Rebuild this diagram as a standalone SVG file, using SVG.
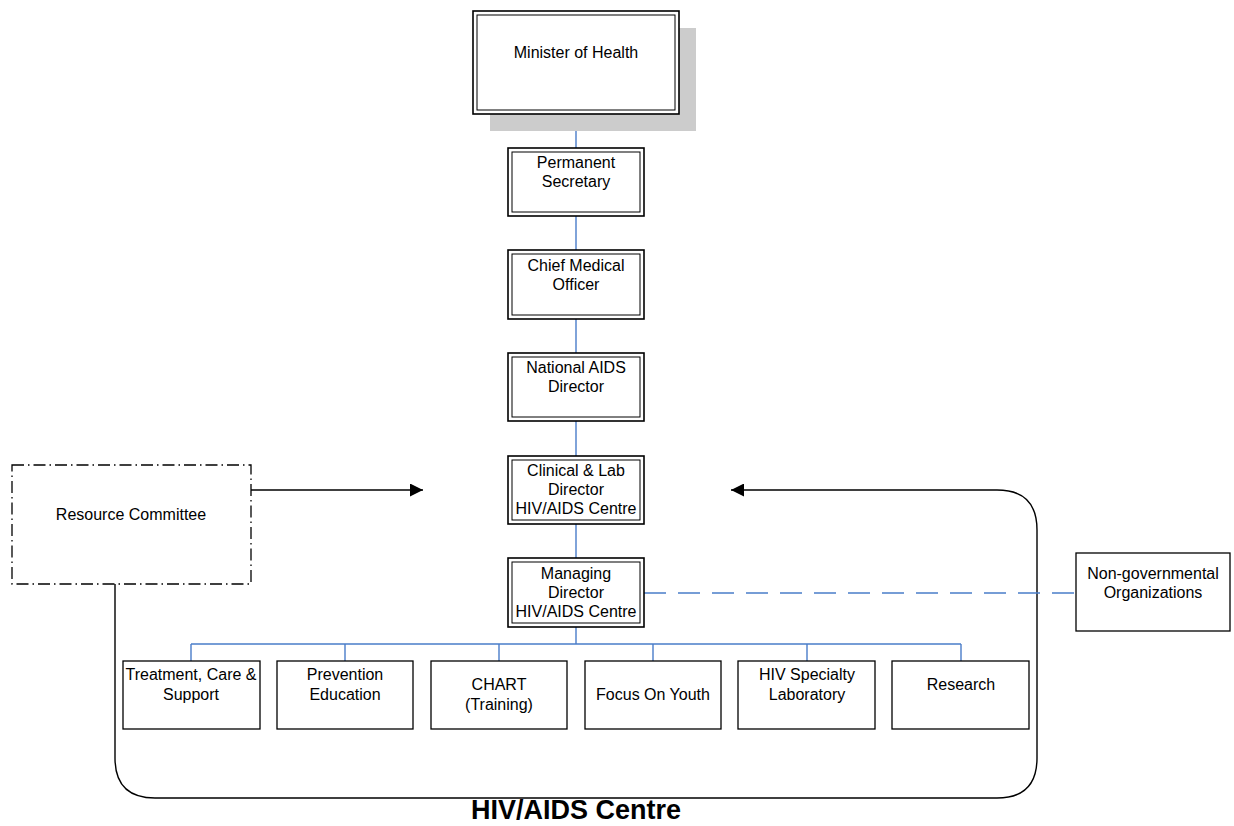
<svg xmlns="http://www.w3.org/2000/svg" width="1234" height="826" viewBox="0 0 1234 826">
<style>
text{font-family:"Liberation Sans",Arial,sans-serif;font-size:16px;fill:#000;text-anchor:middle}
.o{fill:#fff;stroke:#000;stroke-width:1.6}
.i{fill:none;stroke:#000;stroke-width:1}
.b{fill:#fff;stroke:#000;stroke-width:1.3}
.c{fill:none;stroke:#4a7dc9;stroke-width:1.4}
.k{fill:none;stroke:#000;stroke-width:1.4}
</style>
<defs>
<marker id="ah" viewBox="0 0 10 10" refX="10" refY="5" markerWidth="13" markerHeight="13" markerUnits="userSpaceOnUse" orient="auto"><path d="M0,0 L10,5 L0,10 Z" fill="#000"/></marker>
</defs>
<g id="centre-frame">
<path class="k" d="M115,584 V758 Q115,798 155,798 H997 Q1037,798 1037,758 V530 Q1037,490 997,490 H731" marker-end="url(#ah)"/>
<text x="576" y="819" style="font-size:27px;font-weight:bold">HIV/AIDS Centre</text>
</g>
<g id="connectors">
<path class="c" d="M576,114 V148 M576,216 V250 M576,319 V353 M576,421 V456 M576,524 V558 M576,627 V644 M191,644 H961 M191,644 V661 M345,644 V661 M499,644 V661 M653,644 V661 M807,644 V661 M961,644 V661"/>
<path class="c" d="M644,593 H1076" stroke-dasharray="22,12"/>
<path class="k" d="M251,490 H423" marker-end="url(#ah)"/>
</g>
<g id="minister">
<rect x="490" y="28" width="206" height="103" fill="#cccccc"/>
<rect class="o" x="473" y="11" width="206" height="103"/>
<rect class="i" x="477" y="15" width="198" height="95"/>
<text x="576" y="58">Minister of Health</text>
</g>
<g id="permanent-secretary">
<rect class="o" x="508" y="148" width="136" height="68"/>
<rect class="i" x="512" y="152" width="128" height="60"/>
<text x="576" y="168">Permanent</text><text x="576" y="187">Secretary</text>
</g>
<g id="cmo">
<rect class="o" x="508" y="250" width="136" height="69"/>
<rect class="i" x="512" y="254" width="128" height="61"/>
<text x="576" y="271">Chief Medical</text><text x="576" y="290">Officer</text>
</g>
<g id="national-aids-director">
<rect class="o" x="508" y="353" width="136" height="68"/>
<rect class="i" x="512" y="357" width="128" height="60"/>
<text x="576" y="373">National AIDS</text><text x="576" y="392">Director</text>
</g>
<g id="clinical-lab-director">
<rect class="o" x="508" y="456" width="136" height="68"/>
<rect class="i" x="512" y="460" width="128" height="60"/>
<text x="576" y="476">Clinical &amp; Lab</text><text x="576" y="495">Director</text><text x="576" y="514">HIV/AIDS Centre</text>
</g>
<g id="managing-director">
<rect class="o" x="508" y="558" width="136" height="69"/>
<rect class="i" x="512" y="562" width="128" height="61"/>
<text x="576" y="579">Managing</text><text x="576" y="598">Director</text><text x="576" y="617">HIV/AIDS Centre</text>
</g>
<g id="resource-committee">
<rect x="12" y="465" width="239" height="119" fill="#fff" stroke="#000" stroke-width="1.3" stroke-dasharray="12,4,1.5,4"/>
<text x="131" y="520">Resource Committee</text>
</g>
<g id="ngo">
<rect class="b" x="1076" y="553" width="154" height="78"/>
<text x="1153" y="579">Non-governmental</text><text x="1153" y="598">Organizations</text>
</g>
<g id="treatment">
<rect class="b" x="123" y="661" width="137" height="68"/>
<text x="191" y="680">Treatment, Care &amp;</text><text x="191" y="700">Support</text>
</g>
<g id="prevention">
<rect class="b" x="277" y="661" width="136" height="68"/>
<text x="345" y="680">Prevention</text><text x="345" y="700">Education</text>
</g>
<g id="chart">
<rect class="b" x="431" y="661" width="136" height="68"/>
<text x="499" y="690">CHART</text><text x="499" y="710">(Training)</text>
</g>
<g id="focus-on-youth">
<rect class="b" x="585" y="661" width="136" height="68"/>
<text x="653" y="700">Focus On Youth</text>
</g>
<g id="hiv-lab">
<rect class="b" x="738" y="661" width="137" height="68"/>
<text x="807" y="680">HIV Specialty</text><text x="807" y="700">Laboratory</text>
</g>
<g id="research">
<rect class="b" x="892" y="661" width="137" height="68"/>
<text x="961" y="690">Research</text>
</g>
</svg>
